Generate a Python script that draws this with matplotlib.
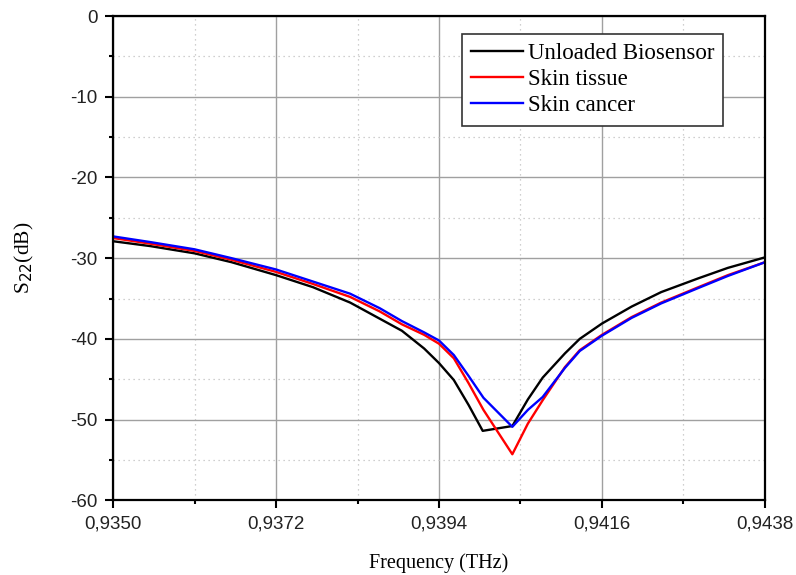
import numpy as np
import matplotlib.pyplot as plt
from matplotlib.ticker import MultipleLocator, FuncFormatter

# frequency points (THz) and S22 (dB)
freq_unloaded = [0.9350, 0.9355, 0.9361, 0.9366, 0.9372, 0.9377, 0.9382, 0.9386,
                 0.9389, 0.9392, 0.9394, 0.9396, 0.9398, 0.93999, 0.94039, 0.9406,
                 0.9408, 0.9411, 0.9413, 0.9416, 0.9420, 0.9424, 0.9429, 0.9433, 0.9438]
s22_unloaded = [-27.9, -28.5, -29.4, -30.5, -32.1, -33.6, -35.5, -37.5,
                -39.0, -41.2, -43.0, -45.1, -48.2, -51.4, -50.8, -47.5,
                -44.8, -41.8, -40.0, -38.1, -36.0, -34.2, -32.5, -31.2, -29.9]

freq_skin = [0.9350, 0.9355, 0.9361, 0.9366, 0.9372, 0.9377, 0.9382, 0.9386,
             0.9389, 0.9392, 0.9394, 0.9396, 0.9398, 0.9400, 0.94039, 0.9406,
             0.9408, 0.9411, 0.9413, 0.9416, 0.9420, 0.9424, 0.9429, 0.9433, 0.9438]
s22_tissue = [-27.5, -28.2, -29.1, -30.2, -31.7, -33.2, -34.8, -36.6,
              -38.2, -39.5, -40.6, -42.4, -45.5, -48.8, -54.3, -50.5,
              -47.6, -43.5, -41.4, -39.5, -37.3, -35.5, -33.6, -32.1, -30.5]
s22_cancer = [-27.3, -28.0, -28.9, -30.0, -31.4, -32.9, -34.4, -36.2,
              -37.8, -39.2, -40.2, -42.0, -44.6, -47.3, -50.9, -48.8,
              -47.2, -43.6, -41.5, -39.6, -37.4, -35.6, -33.7, -32.2, -30.5]

plt.rcParams['font.family'] = ['Liberation Sans', 'DejaVu Sans']

fig = plt.figure(figsize=(7.96, 5.75), dpi=100)
ax = fig.add_axes([0.142, 0.130, 0.819, 0.842])

ax.plot(freq_unloaded, s22_unloaded, color='black', lw=1.7, label='Unloaded Biosensor')
ax.plot(freq_skin, s22_tissue, color='red', lw=1.7, label='Skin tissue')
ax.plot(freq_skin, s22_cancer, color='blue', lw=1.7, label='Skin cancer')

ax.set_xlim(0.9350, 0.9438)
ax.set_ylim(-60, 0)
ax.xaxis.set_major_locator(MultipleLocator(0.0022))
ax.xaxis.set_minor_locator(MultipleLocator(0.0011))
ax.yaxis.set_major_locator(MultipleLocator(10))
ax.yaxis.set_minor_locator(MultipleLocator(5))
ax.xaxis.set_major_formatter(FuncFormatter(lambda v, p: ('%.4f' % v).replace('.', ',')))
ax.yaxis.set_major_formatter(FuncFormatter(lambda v, p: '%d' % round(v)))

ax.grid(which='major', color='#a0a0a0', lw=1.0, ls='-')
ax.grid(which='minor', color='#c0c0c0', lw=0.9, ls=(0, (1, 3)))
ax.set_axisbelow(True)

ax.tick_params(which='both', direction='out', top=False, right=False,
               labelsize=13.5, width=1.5, labelcolor='#222222')
ax.tick_params(which='major', length=6, pad=5)
ax.tick_params(which='minor', length=3)
for s in ax.spines.values():
    s.set_linewidth(1.6)

ax.set_xlabel('Frequency (THz)', family='Liberation Serif', fontsize=14.5, labelpad=15)
ax.set_ylabel('S$_{22}$(dB)', family='Liberation Serif', fontsize=15.5, labelpad=25)

leg = ax.legend(loc='upper right', bbox_to_anchor=(0.936, 0.963), fancybox=False,
                edgecolor='#333333', framealpha=1, handlelength=2.25,
                prop={'family': 'Liberation Serif', 'size': 16.5},
                borderaxespad=0.0, borderpad=0.4, labelspacing=0.22,
                handletextpad=0.2)
leg.get_frame().set_linewidth(1.2)

fig.savefig('out.png', dpi=100)
